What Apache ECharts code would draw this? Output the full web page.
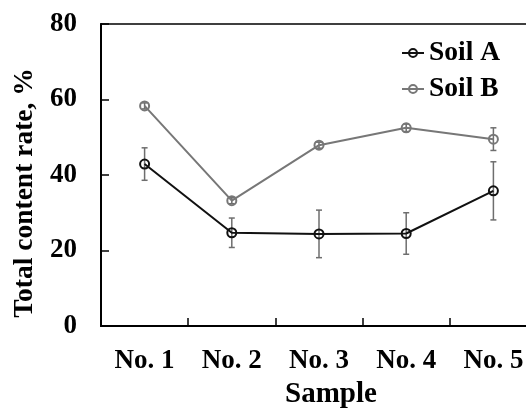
<!DOCTYPE html>
<html>
<head>
<meta charset="utf-8">
<script src="https://cdn.jsdelivr.net/npm/echarts@6/dist/echarts.min.js"></script>
<style>
html,body{margin:0;padding:0;background:#fff;}
#chart{width:526px;height:412px;}
</style>
</head>
<body>
<div id="chart"></div>
<script>
var categories = ['No. 1', 'No. 2', 'No. 3', 'No. 4', 'No. 5'];
var soilA = [42.9, 24.7, 24.4, 24.5, 35.8];
var soilAErr = [4.3, 3.9, 6.3, 5.5, 7.7];
var soilB = [58.3, 33.2, 47.9, 52.5, 49.5];
var soilBErr = [0.8, 0.8, 0.8, 1.0, 3.0];
var yTicks = [0, 20, 40, 60, 80];

var FONT = '"Liberation Serif", "Times New Roman", serif';

function errData(vals, errs) {
  return vals.map(function (v, i) { return [i, v - errs[i], v + errs[i]]; });
}

function errRender(params, api) {
  var x = api.value(0);
  var lo = api.coord([x, api.value(1)]);
  var hi = api.coord([x, api.value(2)]);
  var cap = 3;
  var style = { stroke: '#6e6e6e', lineWidth: 1.5 };
  return {
    type: 'group',
    children: [
      { type: 'line', shape: { x1: lo[0], y1: lo[1], x2: hi[0], y2: hi[1] }, style: style },
      { type: 'line', shape: { x1: lo[0] - cap, y1: lo[1], x2: lo[0] + cap, y2: lo[1] }, style: style },
      { type: 'line', shape: { x1: hi[0] - cap, y1: hi[1], x2: hi[0] + cap, y2: hi[1] }, style: style }
    ]
  };
}

var chart = echarts.init(document.getElementById('chart'), null, { renderer: 'canvas' });
chart.setOption({
  backgroundColor: '#fff',
  animation: false,
  grid: {
    left: 101, top: 24, width: 436, height: 302,
    containLabel: false, outerBoundsMode: 'none',
    show: true, borderColor: '#000', borderWidth: 1.5, backgroundColor: 'transparent'
  },
  legend: {
    orient: 'vertical',
    left: 401, top: 38, padding: 0,
    itemWidth: 22, itemHeight: 10, itemGap: 6,
    textStyle: { fontFamily: FONT, fontWeight: 'bold', fontSize: 27.5, color: '#000', lineHeight: 30 },
    data: ['Soil A', 'Soil B']
  },
  xAxis: {
    type: 'category',
    data: categories,
    boundaryGap: true,
    axisLine: { show: true, lineStyle: { color: '#000', width: 2 } },
    axisTick: { show: true, inside: true, length: 8, alignWithLabel: false, lineStyle: { color: '#000', width: 1.5 } },
    axisLabel: { fontFamily: FONT, fontWeight: 'bold', fontSize: 27, color: '#000', margin: 22 },
    splitLine: { show: false },
    name: 'Sample',
    nameLocation: 'middle',
    nameGap: 53,
    nameTextStyle: { fontFamily: FONT, fontWeight: 'bold', fontSize: 29, color: '#000', padding: [0, 0, 0, 24] }
  },
  yAxis: {
    type: 'value',
    min: 0, max: 80, interval: 20,
    axisLine: { show: true, lineStyle: { color: '#000', width: 2 } },
    axisTick: { show: true, inside: true, length: 8, lineStyle: { color: '#000', width: 1.5 } },
    axisLabel: {
      fontFamily: FONT, fontWeight: 'bold', fontSize: 27, color: '#000', margin: 24,
      formatter: function (v) { return yTicks.indexOf(v) >= 0 ? String(v) : ''; }
    },
    splitLine: { show: false },
    name: 'Total content rate, %',
    nameLocation: 'middle',
    nameRotate: 90,
    nameGap: 60,
    nameTextStyle: { fontFamily: FONT, fontWeight: 'bold', fontSize: 27.5, color: '#000', padding: [0, 36, 0, 0] }
  },
  series: [
    {
      type: 'custom', name: 'errA', renderItem: errRender,
      data: errData(soilA, soilAErr), encode: { x: 0, y: [1, 2] }, z: 1, silent: true
    },
    {
      type: 'custom', name: 'errB', renderItem: errRender,
      data: errData(soilB, soilBErr), encode: { x: 0, y: [1, 2] }, z: 1, silent: true
    },
    {
      name: 'Soil A', type: 'line', data: soilA, z: 3,
      symbol: 'circle', symbolSize: 9,
      lineStyle: { color: '#111', width: 2 },
      itemStyle: { color: 'rgba(255,255,255,0)', borderColor: '#111', borderWidth: 2 }
    },
    {
      name: 'Soil B', type: 'line', data: soilB, z: 2,
      symbol: 'circle', symbolSize: 9,
      lineStyle: { color: '#777', width: 2 },
      itemStyle: { color: 'rgba(255,255,255,0)', borderColor: '#777', borderWidth: 2 }
    }
  ]
});
</script>
</body>
</html>
